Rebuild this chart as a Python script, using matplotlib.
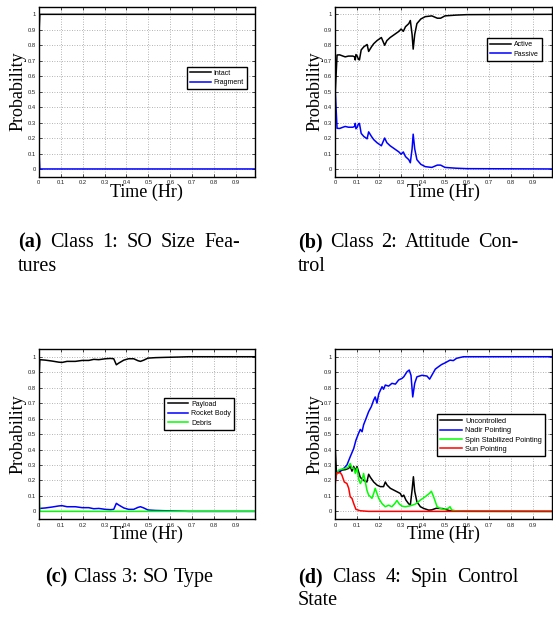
import matplotlib
matplotlib.use('Agg')
import matplotlib.pyplot as plt

W, H, DPI = 553, 626, 100

# ---------------- data ----------------
xticks = [0, 0.1, 0.2, 0.3, 0.4, 0.5, 0.6, 0.7, 0.8, 0.9]
xtick_labels = ['0', '0.1', '0.2', '0.3', '0.4', '0.5', '0.6', '0.7', '0.8', '0.9']
yticks = [0, 0.1, 0.2, 0.3, 0.4, 0.5, 0.6, 0.7, 0.8, 0.9, 1.0]
ytick_labels = ['0', '0.1', '0.2', '0.3', '0.4', '0.5', '0.6', '0.7', '0.8', '0.9', '1']

# (a) Class 1
t_a = [0.0, 0.005, 0.986]
intact = [0.83, 1.0, 1.0]
fragment = [0.17, 0.0, 0.0]

# (b) Class 2
t_b = [0.0, 0.008, 0.02, 0.035, 0.045, 0.06, 0.08, 0.088, 0.091, 0.094, 0.1, 0.105,
       0.11, 0.118, 0.13, 0.145, 0.152, 0.165, 0.175, 0.19, 0.21, 0.225, 0.235, 0.25,
       0.27, 0.29, 0.3, 0.31, 0.32, 0.335, 0.342, 0.35, 0.355, 0.362, 0.372, 0.39,
       0.41, 0.44, 0.465, 0.48, 0.5, 0.55, 0.6, 0.986]
active = [0.50, 0.737, 0.738, 0.73, 0.725, 0.73, 0.73, 0.725, 0.705, 0.74, 0.73, 0.71,
          0.705, 0.77, 0.79, 0.805, 0.76, 0.79, 0.81, 0.83, 0.85, 0.80, 0.83, 0.85,
          0.87, 0.89, 0.905, 0.89, 0.92, 0.94, 0.96, 0.87, 0.775, 0.87, 0.94, 0.97,
          0.985, 0.99, 0.975, 0.975, 0.99, 0.995, 0.998, 1.0]
passive = [0.50, 0.263, 0.262, 0.27, 0.275, 0.27, 0.27, 0.275, 0.295, 0.26, 0.27, 0.29,
           0.295, 0.23, 0.21, 0.195, 0.24, 0.21, 0.19, 0.17, 0.15, 0.20, 0.17, 0.15,
           0.13, 0.11, 0.095, 0.11, 0.08, 0.06, 0.04, 0.13, 0.225, 0.13, 0.06, 0.03,
           0.015, 0.01, 0.025, 0.025, 0.01, 0.005, 0.002, 0.0]

# (c) Class 3
t_c = [0.0, 0.005, 0.03, 0.061, 0.091, 0.106, 0.129, 0.167, 0.198, 0.228, 0.251, 0.274,
       0.304, 0.327, 0.342, 0.354, 0.365, 0.388, 0.41, 0.433, 0.453, 0.464, 0.479,
       0.498, 0.532, 0.578, 0.638, 0.684, 0.986]
payload = [0.815, 0.981, 0.978, 0.972, 0.965, 0.963, 0.97, 0.97, 0.976, 0.976, 0.983,
           0.981, 0.987, 0.989, 0.987, 0.948, 0.959, 0.978, 0.987, 0.987, 0.974, 0.97,
           0.978, 0.991, 0.994, 0.996, 0.998, 1.0, 1.0]
rocket_body = [0.02, 0.019, 0.022, 0.028, 0.035, 0.037, 0.03, 0.03, 0.024, 0.024,
               0.017, 0.019, 0.013, 0.011, 0.013, 0.052, 0.041, 0.022, 0.013, 0.013,
               0.026, 0.03, 0.022, 0.009, 0.006, 0.004, 0.002, 0.0, 0.0]
debris = [0.165, 0.0, 0.0, 0.0, 0.0, 0.0, 0.0, 0.0, 0.0, 0.0, 0.0, 0.0, 0.0, 0.0, 0.0,
          0.0, 0.0, 0.0, 0.0, 0.0, 0.0, 0.0, 0.0, 0.0, 0.0, 0.0, 0.0, 0.0, 0.0]

# (d) Class 4
t_unc = [0.0, 0.005, 0.015, 0.03, 0.046, 0.061, 0.068, 0.076, 0.084, 0.091, 0.099, 0.106,
         0.114, 0.129, 0.144, 0.152, 0.16, 0.175, 0.19, 0.205, 0.22, 0.228, 0.236, 0.251,
         0.266, 0.281, 0.296, 0.304, 0.312, 0.322, 0.334, 0.342, 0.35, 0.356, 0.362,
         0.372, 0.388, 0.403, 0.426, 0.44, 0.46, 0.49, 0.52, 0.55, 0.986]
uncontrolled = [0.4, 0.256, 0.25, 0.267, 0.27, 0.278, 0.293, 0.26, 0.29, 0.262, 0.29,
                0.256, 0.22, 0.2, 0.19, 0.24, 0.22, 0.19, 0.17, 0.16, 0.16, 0.19, 0.17,
                0.149, 0.138, 0.127, 0.116, 0.095, 0.105, 0.073, 0.05, 0.04, 0.138,
                0.224, 0.13, 0.062, 0.03, 0.019, 0.008, 0.01, 0.02, 0.018, 0.005, 0.001,
                0.0]
t_nadir = [0.0, 0.008, 0.023, 0.038, 0.053, 0.068, 0.084, 0.094, 0.106, 0.114, 0.122,
           0.129, 0.14, 0.152, 0.164, 0.175, 0.182, 0.19, 0.198, 0.213, 0.22, 0.228,
           0.243, 0.258, 0.274, 0.289, 0.304, 0.312, 0.327, 0.337, 0.345, 0.353, 0.362,
           0.372, 0.395, 0.418, 0.43, 0.444, 0.456, 0.47, 0.485, 0.5, 0.523, 0.538,
           0.553, 0.584, 0.986]
nadir = [0.2, 0.256, 0.263, 0.277, 0.30, 0.353, 0.407, 0.46, 0.504, 0.53, 0.515, 0.56,
         0.60, 0.645, 0.677, 0.72, 0.74, 0.70, 0.76, 0.806, 0.79, 0.817, 0.81, 0.828,
         0.823, 0.85, 0.86, 0.87, 0.903, 0.914, 0.88, 0.74, 0.828, 0.87, 0.88, 0.875,
         0.855, 0.89, 0.92, 0.935, 0.95, 0.96, 0.978, 0.975, 0.99, 1.0, 1.0]
t_spin = [0.0, 0.015, 0.03, 0.046, 0.058, 0.068, 0.076, 0.084, 0.091, 0.099, 0.106,
          0.114, 0.122, 0.129, 0.137, 0.144, 0.152, 0.16, 0.167, 0.175, 0.182, 0.19,
          0.198, 0.213, 0.228, 0.243, 0.258, 0.271, 0.281, 0.292, 0.304, 0.319, 0.342,
          0.365, 0.388, 0.41, 0.429, 0.438, 0.448, 0.464, 0.479, 0.494, 0.515, 0.523,
          0.53, 0.553, 0.6, 0.986]
spin_stab = [0.22, 0.267, 0.273, 0.278, 0.284, 0.31, 0.278, 0.28, 0.246, 0.28, 0.213,
             0.18, 0.2, 0.245, 0.19, 0.138, 0.105, 0.095, 0.084, 0.116, 0.149, 0.116,
             0.084, 0.05, 0.03, 0.04, 0.03, 0.05, 0.07, 0.047, 0.034, 0.03, 0.036,
             0.047, 0.073, 0.095, 0.116, 0.13, 0.095, 0.03, 0.019, 0.013, 0.02, 0.03,
             0.01, 0.002, 0.0, 0.0]
t_sun = [0.0, 0.005, 0.023, 0.03, 0.041, 0.053, 0.061, 0.068, 0.076, 0.084, 0.094,
         0.114, 0.152, 0.986]
sun = [0.18, 0.25, 0.25, 0.235, 0.19, 0.18, 0.15, 0.094, 0.084, 0.05, 0.013, 0.004,
       0.0, 0.0]

captions = {
    'a': (['(a)', 'Class', '1:', 'SO', 'Size', 'Fea-'], 'tures'),
    'b': (['(b)', 'Class', '2:', 'Attitude', 'Con-'], 'trol'),
    'c': (['(c)', 'Class', '3:', 'SO', 'Type'], None),
    'd': (['(d)', 'Class', '4:', 'Spin', 'Control'], 'State'),
}

# ---------------- figure ----------------
SERIF = 'Liberation Serif'
SANS = 'Liberation Sans'
fig = plt.figure(figsize=(W / DPI, H / DPI), dpi=DPI)


def px_axes(left, top, width, height):
    return fig.add_axes([left / W, 1 - (top + height) / H, width / W, height / H])


AX_W, AX_H = 216.3, 170.1
ax_a = px_axes(38.7, 6.6, AX_W, AX_H)
ax_b = px_axes(335.3, 6.6, AX_W, AX_H)
ax_c = px_axes(38.7, 349.0, AX_W, AX_H)
ax_d = px_axes(335.3, 349.0, AX_W, AX_H)


def setup(ax):
    ax.set_xlim(0, 0.986)
    ax.set_ylim(-0.05, 1.05)
    ax.set_xticks(xticks)
    ax.set_xticklabels(xtick_labels, fontsize=4.2, family=SANS, color='#222222')
    ax.set_yticks(yticks)
    ax.set_yticklabels(ytick_labels, fontsize=4.2, family=SANS, color='#222222')
    ax.grid(True, linestyle=(0, (1, 2)), color='#9a9a9a', linewidth=0.6)
    ax.tick_params(direction='in', length=2.5, width=0.5, top=True, right=True)
    ax.tick_params(axis='x', pad=2.6)
    ax.tick_params(axis='y', pad=2.2)
    for s in ax.spines.values():
        s.set_linewidth(1.0)
        s.set_color('black')
    ax.set_xlabel('Time (Hr)', fontsize=13, family=SERIF, va='center')
    ax.xaxis.set_label_coords(0.5, -0.09)
    ax.set_ylabel('Probability', fontsize=13, family=SERIF, va='center')
    ax.yaxis.set_label_coords(-0.096, 0.5)


def legend(ax, anchor, fs=5.0, ls=0.35):
    lg = ax.legend(loc='upper right', bbox_to_anchor=anchor, borderaxespad=0,
                   fancybox=False, edgecolor='black', framealpha=1,
                   prop={'family': SANS, 'size': fs}, handlelength=3.0,
                   handletextpad=0.4, labelspacing=ls, borderpad=0.45)
    lg.get_frame().set_linewidth(1.0)


LW = 1.1
for ax in (ax_a, ax_b, ax_c, ax_d):
    setup(ax)

ax_a.plot(t_a, intact, color='black', lw=LW, label='Intact')
ax_a.plot(t_a, fragment, color='blue', lw=LW, label='Fragment')
legend(ax_a, (0.964, 0.647))

ax_b.plot(t_b, active, color='black', lw=LW, label='Active')
ax_b.plot(t_b, passive, color='blue', lw=LW, label='Passive')
legend(ax_b, (0.954, 0.814))

ax_c.plot(t_c, payload, color='black', lw=LW, label='Payload')
ax_c.plot(t_c, rocket_body, color='blue', lw=LW, label='Rocket Body')
ax_c.plot(t_c, debris, color='#00ff00', lw=LW, label='Debris')
legend(ax_c, (0.904, 0.714))

ax_d.plot(t_unc, uncontrolled, color='black', lw=LW, label='Uncontrolled')
ax_d.plot(t_nadir, nadir, color='blue', lw=LW, label='Nadir Pointing')
ax_d.plot(t_spin, spin_stab, color='#00ff00', lw=LW, label='Spin Stabilized Pointing')
ax_d.plot(t_sun, sun, color='red', lw=LW, label='Sun Pointing')
legend(ax_d, (0.971, 0.616), fs=5.3, ls=0.3)

# ---------------- captions ----------------
CAP_FS = 14.5
renderer = fig.canvas.get_renderer()


def word(x, y, s, bold):
    return fig.text(x / W, 1 - y / H, s, fontsize=CAP_FS, family=SERIF,
                    fontweight='bold' if bold else 'normal', ha='left', va='baseline')


def justified(words, x0, x1, y):
    ts = [word(x0, y, w, i == 0) for i, w in enumerate(words)]
    widths = [t.get_window_extent(renderer).width for t in ts]
    gap = (x1 - x0 - sum(widths)) / (len(ts) - 1)
    x = x0
    for t, w in zip(ts, widths):
        t.set_x(x / W)
        x += w + gap


def natural(words, xc, y):
    ts = [word(0, y, w, i == 0) for i, w in enumerate(words)]
    widths = [t.get_window_extent(renderer).width for t in ts]
    sp = CAP_FS * DPI / 72 * 0.25
    total = sum(widths) + sp * (len(ts) - 1)
    x = xc - total / 2
    for t, w in zip(ts, widths):
        t.set_x(x / W)
        x += w + sp


L1_TOP, L2_TOP = 247, 271
L1_BOT, L2_BOT = 582, 605
justified(captions['a'][0], 18, 240, L1_TOP)
word(18, L2_TOP, captions['a'][1], False)
justified(captions['b'][0], 298, 518, L1_TOP)
word(298, L2_TOP, captions['b'][1], False)
natural(captions['c'][0], 129.4, L1_BOT)
justified(captions['d'][0], 298, 518, L1_BOT)
word(298, L2_BOT, captions['d'][1], False)

fig.savefig('out.png', dpi=DPI)
